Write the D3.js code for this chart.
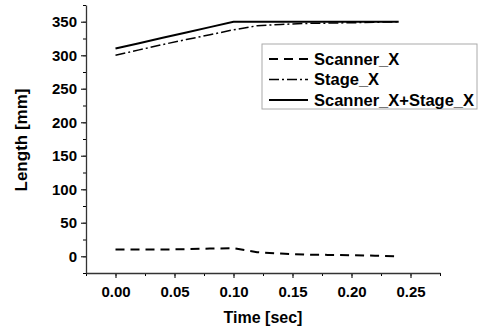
<!DOCTYPE html>
<html>
<head>
<meta charset="utf-8">
<script src="https://cdn.jsdelivr.net/npm/d3@7"></script>
<style>
  body { margin: 0; background: #fff; }
  text { font-family: "Liberation Sans", Arial, sans-serif; font-weight: bold; }
</style>
</head>
<body>
<div id="chart"></div>
<script>
// data
var times   = [0, 0.02, 0.04, 0.06, 0.08, 0.10, 0.12, 0.14, 0.16, 0.18, 0.20, 0.22, 0.24];
var scanner = [10, 10, 10, 10.5, 11.5, 12, 6, 4, 2.5, 2, 1.5, 0.8, 0];
var stage   = [300, 308, 316, 323.5, 330.5, 338, 344, 346, 347.5, 348, 348.5, 349.2, 350];
var total   = [310, 318, 326, 334, 342, 350, 350, 350, 350, 350, 350, 350, 350];
var seriesNames = ["Scanner_X", "Stage_X", "Scanner_X+Stage_X"];
var xTicks = [0, 0.05, 0.10, 0.15, 0.20, 0.25];
var yTicks = [0, 50, 100, 150, 200, 250, 300, 350];

var W = 481, H = 333;
var margin = {top: 5, right: 41, bottom: 60, left: 86},
    width = W - margin.left - margin.right,
    height = H - margin.top - margin.bottom;

var svg = d3.select("#chart")
  .append("svg")
    .attr("width", W)
    .attr("height", H);

var g = svg.append("g")
    .attr("transform", "translate(" + margin.left + "," + margin.top + ")");

var x = d3.scaleLinear().domain([-0.025, 0.275]).range([0, width]);
var y = d3.scaleLinear().domain([-25, 375]).range([height, 0]);

// minor ticks
g.append("g")
    .attr("transform", "translate(0," + height + ")")
    .call(d3.axisBottom(x).tickValues(d3.range(-0.025, 0.2751, 0.025)).tickSize(3).tickFormat(""))
    .call(s => s.select(".domain").remove());
g.append("g")
    .call(d3.axisLeft(y).tickValues(d3.range(-25, 376, 25)).tickSize(3).tickFormat(""))
    .call(s => s.select(".domain").remove());

// major axes
var xAxis = g.append("g")
    .attr("transform", "translate(0," + height + ")")
    .call(d3.axisBottom(x).tickValues(xTicks).tickSize(5).tickPadding(8).tickFormat(d3.format(".2f")).tickSizeOuter(0));
var yAxis = g.append("g")
    .call(d3.axisLeft(y).tickValues(yTicks).tickSize(5).tickPadding(4).tickSizeOuter(0));

[xAxis, yAxis].forEach(function(a) {
  a.selectAll("text").attr("font-size", "15px").attr("fill", "#000")
    .style("font-family", "'Liberation Sans', Arial, sans-serif").style("font-weight", "bold");
  a.selectAll("line, path").attr("stroke", "#333").attr("stroke-width", 1.3);
});

// lines
var styles = [
  {data: scanner, dash: "9,6", w: 2},
  {data: stage, dash: "10,3,2,3", w: 1.5},
  {data: total, dash: null, w: 2}
];
var line = d3.line()
    .x(function(d, i) { return x(times[i]); })
    .y(function(d) { return y(d); });

styles.forEach(function(s) {
  g.append("path")
    .datum(s.data)
    .attr("d", line)
    .attr("fill", "none")
    .attr("stroke", "#000")
    .attr("stroke-width", s.w)
    .attr("stroke-dasharray", s.dash);
});

// legend
var legend = svg.append("g").attr("transform", "translate(262,44)");
legend.append("rect")
    .attr("width", 215).attr("height", 65)
    .attr("fill", "#fff").attr("stroke", "#aaa").attr("stroke-width", 1);
seriesNames.forEach(function(name, i) {
  var yy = 15 + i * 20.5;
  legend.append("line")
    .attr("x1", 7).attr("x2", 46).attr("y1", yy).attr("y2", yy)
    .attr("stroke", "#000").attr("stroke-width", styles[i].w)
    .attr("stroke-dasharray", styles[i].dash);
  legend.append("text")
    .attr("x", 52).attr("y", yy + 5.5)
    .attr("font-size", "16.5px")
    .text(name);
});

// axis titles
svg.append("text")
    .attr("x", margin.left + x(0.125)).attr("y", 323)
    .attr("text-anchor", "middle").attr("font-size", "16px")
    .text("Time [sec]");
svg.append("text")
    .attr("transform", "translate(27,140) rotate(-90)")
    .attr("text-anchor", "middle").attr("font-size", "17px")
    .text("Length [mm]");
</script>
</body>
</html>
